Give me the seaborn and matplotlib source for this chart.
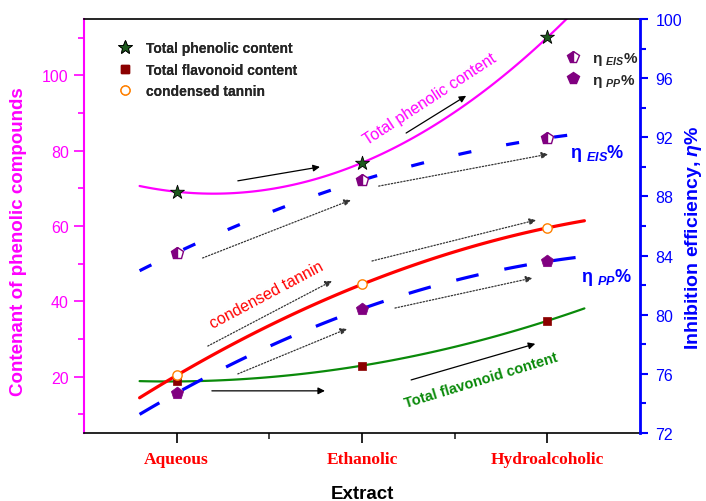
import numpy as np
import pandas as pd
import matplotlib
matplotlib.use("Agg")
import matplotlib.pyplot as plt
from matplotlib.lines import Line2D
from matplotlib.ticker import FixedLocator, MultipleLocator
import seaborn as sns

# ---------------- data ----------------
extracts = ["Aqueous", "Ethanolic", "Hydroalcoholic"]
x_pos = [1, 2, 3]
phenolic = [69.1, 76.8, 110.1]      # Total phenolic content
flavonoid = [18.7, 22.9, 34.8]      # Total flavonoid content
tannin = [20.3, 44.5, 59.5]         # condensed tannin
eta_eis = [84.2, 89.1, 91.95]       # inhibition efficiency EIS (%)
eta_pp = [74.7, 80.4, 83.6]         # inhibition efficiency PP (%)

left_ticks = [20, 40, 60, 80, 100]
right_ticks = [72, 76, 80, 84, 88, 92, 96, 100]

# ---------------- style ----------------
sns.set_style("ticks")
plt.rcParams["font.family"] = ["Liberation Sans", "DejaVu Sans"]
plt.rcParams["mathtext.fontset"] = "custom"
plt.rcParams["mathtext.rm"] = "Liberation Sans:bold"
plt.rcParams["mathtext.it"] = "Liberation Sans:italic:bold"
plt.rcParams["mathtext.bf"] = "Liberation Sans:bold"
plt.rcParams["lines.scale_dashes"] = False

MAG = "#FF00FF"
BLUE = "#0000FF"
RED = "#FF0000"
GREEN = "#0A8A0A"
PURPLE = "#800080"

df = pd.DataFrame({"x": x_pos, "phenolic": phenolic, "flavonoid": flavonoid,
                   "tannin": tannin, "eis": eta_eis, "pp": eta_pp})

fig = plt.figure(figsize=(7.06, 5.02), dpi=100)
ax = fig.add_axes([84 / 706, 68 / 502, 556 / 706, 414 / 502])
ax2 = ax.twinx()

# fitted (2nd order) trend curves, drawn across 0.8..3.2
ax.set_xlim(0.8, 3.2)
common = dict(order=2, ci=None, truncate=False, scatter=False)
sns.regplot(data=df, x="x", y="phenolic", ax=ax, line_kws=dict(color=MAG, lw=1.6), **common)
sns.regplot(data=df, x="x", y="flavonoid", ax=ax, line_kws=dict(color=GREEN, lw=1.6), **common)
sns.regplot(data=df, x="x", y="tannin", ax=ax, line_kws=dict(color=RED, lw=2.3), **common)
sns.regplot(data=df, x="x", y="eis", ax=ax2,
            line_kws=dict(color=BLUE, lw=2.3, dashes=(9.5, 25.5)), **common)
sns.regplot(data=df, x="x", y="pp", ax=ax2,
            line_kws=dict(color=BLUE, lw=2.3, dashes=(16.5, 19)), **common)
ax.set_xlim(0.5, 3.5)

# markers
sns.scatterplot(data=df, x="x", y="phenolic", ax=ax, marker="*", s=110,
                color="#1E5A1E", edgecolor="black", linewidth=0.6, zorder=5)
sns.scatterplot(data=df, x="x", y="flavonoid", ax=ax, marker="s", s=28,
                color="#8B0000", edgecolor="#8B0000", linewidth=0.5, zorder=5)
sns.scatterplot(data=df, x="x", y="tannin", ax=ax, marker="o", s=45,
                facecolor="white", edgecolor="#FF8000", linewidth=1.0, zorder=5)
sns.lineplot(data=df, x="x", y="eis", ax=ax2, linestyle="", marker="p",
             markersize=9, fillstyle="left", markerfacecolor=PURPLE,
             markerfacecoloralt="white", markeredgecolor=PURPLE,
             markeredgewidth=1.0, zorder=5)
sns.scatterplot(data=df, x="x", y="pp", ax=ax2, marker="p", s=85,
                color=PURPLE, edgecolor=PURPLE, linewidth=0.5, zorder=5)

# axes limits / ticks
ax.set_ylim(5, 115)
ax2.set_ylim(72, 100)
ax.xaxis.set_major_locator(FixedLocator(x_pos))
ax.set_xticklabels(extracts)
ax.xaxis.set_minor_locator(FixedLocator([1.5, 2.5]))
ax.yaxis.set_major_locator(FixedLocator(left_ticks))
ax.yaxis.set_minor_locator(MultipleLocator(10))
ax2.yaxis.set_major_locator(FixedLocator(right_ticks))
ax2.yaxis.set_minor_locator(MultipleLocator(2))

ax.tick_params(axis="x", which="major", direction="out", length=7, width=1.2,
               colors="black", pad=6)
ax.tick_params(axis="x", which="minor", direction="out", length=4, width=1.2)
for lab in ax.get_xticklabels():
    lab.set_fontfamily("Liberation Serif")
    lab.set_fontweight("bold")
    lab.set_color(RED)
    lab.set_fontsize(12.5)
ax.tick_params(axis="y", which="major", direction="out", length=7, width=1.2,
               color=MAG, labelcolor=MAG, labelsize=11.5, pad=4)
ax.tick_params(axis="y", which="minor", direction="out", length=4, width=1.2, color=MAG)
ax2.tick_params(axis="y", which="major", direction="out", length=6, width=1.5,
                color=BLUE, labelcolor=BLUE, labelsize=11.5, pad=5)
ax2.tick_params(axis="y", which="minor", direction="out", length=4, width=1.5, color=BLUE)

for s in ["top", "bottom"]:
    ax.spines[s].set_color("black")
    ax.spines[s].set_linewidth(1.2)
    ax2.spines[s].set_visible(False)
ax.spines["left"].set_color(MAG)
ax.spines["left"].set_linewidth(1.5)
ax.spines["right"].set_visible(False)
ax2.spines["left"].set_visible(False)
ax2.spines["right"].set_color(BLUE)
ax2.spines["right"].set_linewidth(2.0)

# axis labels
ax.set_xlabel("Extract", fontsize=13.5, fontweight="bold", color="black")
ax.xaxis.set_label_coords(0.5, -0.125)
ax.set_ylabel("Contenant of phenolic compounds", fontsize=13.5, fontweight="bold", color=MAG)
ax.yaxis.set_label_coords(-0.1025, 0.465)
ax2.set_ylabel("Inhibition efficiency, $\\eta$%", fontsize=14, fontweight="bold", color=BLUE)
ax2.yaxis.set_label_coords((683 - 84) / 556, 0.475)

# arrows (tail -> head, in category / left-axis units)
solid_arrows = [((1.33, 72.0), (1.773, 75.7)),
                ((2.238, 84.7), (2.562, 94.6)),
                ((1.19, 16.2), (1.80, 16.2)),
                ((2.265, 19.1), (2.935, 28.7))]
dotted_arrows = [((1.14, 51.5), (1.94, 66.9)),
                 ((2.09, 70.6), (3.005, 79.1)),
                 ((1.168, 28.1), (1.838, 45.4)),
                 ((2.054, 50.7), (2.94, 61.6)),
                 ((1.33, 20.7), (1.92, 32.7)),
                 ((2.178, 38.2), (2.92, 46.2))]
for tail, head in solid_arrows:
    ax.annotate("", xy=head, xytext=tail,
                arrowprops=dict(arrowstyle="-|>", color="black", lw=0.9,
                                mutation_scale=10, shrinkA=0, shrinkB=0))
for tail, head in dotted_arrows:
    ax.annotate("", xy=head, xytext=tail,
                arrowprops=dict(arrowstyle="-|>", color="#333333", lw=0.9,
                                linestyle=(0, (1, 1.3)), mutation_scale=10,
                                shrinkA=0, shrinkB=0))

# in-plot labels
ax.text(2.368, 93.8, "Total phenolic content", color=MAG, fontsize=11.5,
        rotation=33, ha="center", va="center", rotation_mode="anchor")
ax.text(1.486, 41.7, "condensed tannin", color=RED, fontsize=11.5,
        rotation=28, ha="center", va="center", rotation_mode="anchor")
ax.text(2.643, 19.1, "Total flavonoid content", color=GREEN, fontsize=10.5,
        fontweight="bold", rotation=17, ha="center", va="center", rotation_mode="anchor")
ax.text(3.124, 78.3, "η $_{EIS}$%", color=BLUE, fontsize=13, fontweight="bold",
        ha="left", va="baseline")
ax.text(3.184, 45.4, "η $_{PP}$%", color=BLUE, fontsize=13, fontweight="bold",
        ha="left", va="baseline")

# legends
h1 = [Line2D([], [], ls="", marker="*", ms=10, mfc="#1E5A1E", mec="black", mew=0.6),
      Line2D([], [], ls="", marker="s", ms=5.5, mfc="#8B0000", mec="#8B0000"),
      Line2D([], [], ls="", marker="o", ms=6.5, mfc="white", mec="#FF8000", mew=1.0)]
leg1 = ax.legend(h1, ["Total phenolic content", "Total flavonoid content", "condensed tannin"],
                 loc="upper left", bbox_to_anchor=((118 - 84) / 556, 1 - (42 - 20) / 414),
                 frameon=False, borderpad=0, borderaxespad=0, handlelength=1.0,
                 handletextpad=1.0, labelspacing=0.55,
                 prop=dict(family="Liberation Sans", weight="bold", size=10))
ax.add_artist(leg1)

h2 = [Line2D([], [], ls="", marker="p", ms=8.5, fillstyle="left", mfc=PURPLE,
             mfcalt="white", mec=PURPLE, mew=1.0),
      Line2D([], [], ls="", marker="p", ms=8.5, mfc=PURPLE, mec=PURPLE)]
leg2 = ax2.legend(h2, ["η $_{EIS}$%", "η $_{PP}$%"],
                  loc="upper left", bbox_to_anchor=((565 - 84) / 556, 1 - (51 - 20) / 414),
                  frameon=False, borderpad=0, borderaxespad=0, handlelength=1.0,
                  handletextpad=0.8, labelspacing=0.3,
                  prop=dict(family="Liberation Sans", weight="bold", size=11))

fig.savefig("out.png", dpi=100)
